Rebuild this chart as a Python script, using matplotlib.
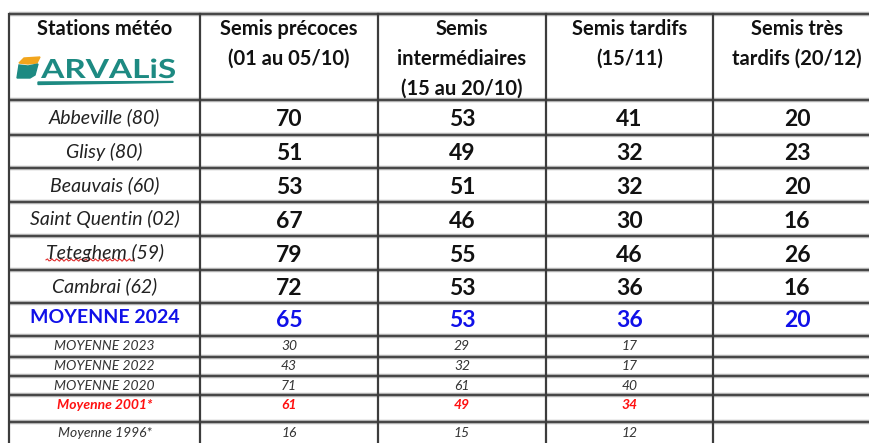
import matplotlib.pyplot as plt
import numpy as np
from matplotlib.patches import Polygon, PathPatch
from matplotlib.textpath import TextPath
from matplotlib.font_manager import FontProperties
from matplotlib.transforms import Affine2D

plt.rcParams['font.family'] = ['Lato', 'DejaVu Sans']

# table content
headers = [['Stations météo'],
           ['Semis précoces', '(01 au 05/10)'],
           ['Semis', 'intermédiaires', '(15 au 20/10)'],
           ['Semis tardifs', '(15/11)'],
           ['Semis très', 'tardifs (20/12)']]

stations = ['Abbeville (80)', 'Glisy (80)', 'Beauvais (60)', 'Saint Quentin (02)',
            'Teteghem (59)', 'Cambrai (62)']
precoces = [70, 51, 53, 67, 79, 72]
intermediaires = [53, 49, 51, 46, 55, 53]
tardifs = [41, 32, 32, 30, 46, 36]
tres_tardifs = [20, 23, 20, 16, 26, 16]

moy_label = 'MOYENNE 2024'
moy_2024 = [65, 53, 36, 20]

past_labels = ['MOYENNE 2023', 'MOYENNE 2022', 'MOYENNE 2020', 'Moyenne 2001*', 'Moyenne 1996*']
past_precoces = [30, 43, 71, 61, 16]
past_intermediaires = [29, 32, 61, 49, 15]
past_tardifs = [17, 17, 40, 34, 12]

# grid (pixels)
col_edges = [9, 200, 378, 546, 713, 881]
row_edges = [14, 100, 135, 168, 202, 236, 270, 303, 336, 357, 376, 395, 422, 450]

fig = plt.figure(figsize=(8.69, 4.43), dpi=100)
ax = fig.add_axes([0, 0, 1, 1])
ax.set_xlim(0, 869)
ax.set_ylim(443, 0)
ax.axis('off')

line_col = '#3c3c3c'
for y in row_edges[:-1]:
    ax.plot([col_edges[0], 869], [y, y], color='#b0b0b0', lw=3.2, solid_capstyle='butt', zorder=1)
    ax.plot([col_edges[0], 869], [y, y], color=line_col, lw=1.3, solid_capstyle='butt', zorder=2)
for x in col_edges[:-1]:
    ax.plot([x, x], [row_edges[0], 443], color=line_col, lw=1.6, zorder=3)

centers = [(col_edges[i] + col_edges[i + 1]) / 2 for i in range(5)]
rmid = [(row_edges[i] + row_edges[i + 1]) / 2 for i in range(len(row_edges) - 1)]

# header
for c, lines in enumerate(headers):
    for k, s in enumerate(lines):
        ax.text(centers[c], 29 + 30 * k, s, ha='center', va='center',
                fontsize=14.5, fontweight='bold', color='#111111')

# ARVALIS logo
teal = '#1d8a82'
ax.add_patch(Polygon([[19, 63], [24, 58], [40, 57], [37, 63], [28, 64]], closed=True,
                     color='#f2a51c', zorder=4))
ax.add_patch(Polygon([[19, 65], [28, 66], [38, 64], [35, 75], [30, 78], [17, 78]],
                     closed=True, color=teal, zorder=4))
fp = FontProperties(family='Lato', weight='bold')
tp = TextPath((0, 0), 'ARVALiS', size=10, prop=fp)
cap = TextPath((0, 0), 'A', size=10, prop=fp).get_extents().height
ext = tp.get_extents()
sx = (175 - 41) / ext.width
sy = 19 / cap
tr = Affine2D().translate(-ext.x0, 0).scale(sx, -sy).translate(41, 78)
ax.add_patch(PathPatch(tr.transform_path(tp), color=teal, lw=0, zorder=4))
ax.add_patch(Polygon([[38, 82], [173, 81.5], [173, 82.3], [38, 84.5]], closed=True,
                     color=teal, zorder=4))

# station rows
series = [precoces, intermediaires, tardifs, tres_tardifs]
for i, name in enumerate(stations):
    y = rmid[i + 1]
    ax.text(centers[0], y, name, ha='center', va='center', fontsize=14,
            fontstyle='italic', color='#222222')
    for c, vals in enumerate(series):
        ax.text(centers[c + 1], y + 2, str(vals[i]), ha='center', va='center',
                fontsize=16.5, fontweight='bold', color='#111111')

# spell-check squiggle under Teteghem
xs = np.linspace(46, 134, 60)
ax.plot(xs, 260 + 1.2 * np.sin(xs * 1.3), color='#e03030', lw=0.8)

# 2024 average
y = rmid[7]
ax.text(centers[0], y - 2, moy_label, ha='center', va='center', fontsize=14,
        fontweight='bold', color='#1010e8')
for c, v in enumerate(moy_2024):
    ax.text(centers[c + 1], y + 1, str(v), ha='center', va='center', fontsize=16.5,
            fontweight='bold', color='#1010e8')

# past averages
past = [past_precoces, past_intermediaires, past_tardifs]
past_y = [346, 366.5, 385.5, 405, 433]
for i, lab in enumerate(past_labels):
    red = lab.startswith('Moyenne 2001')
    col = '#ff1010' if red else '#333333'
    fw = 'bold' if red else 'normal'
    ax.text(centers[0], past_y[i], lab, ha='center', va='center', fontsize=10,
            fontstyle='italic', fontweight=fw, color=col)
    for c, vals in enumerate(past):
        ax.text(centers[c + 1], past_y[i], str(vals[i]), ha='center', va='center',
                fontsize=10, fontstyle='italic', fontweight=fw, color=col)

fig.savefig('out.png', dpi=100)
